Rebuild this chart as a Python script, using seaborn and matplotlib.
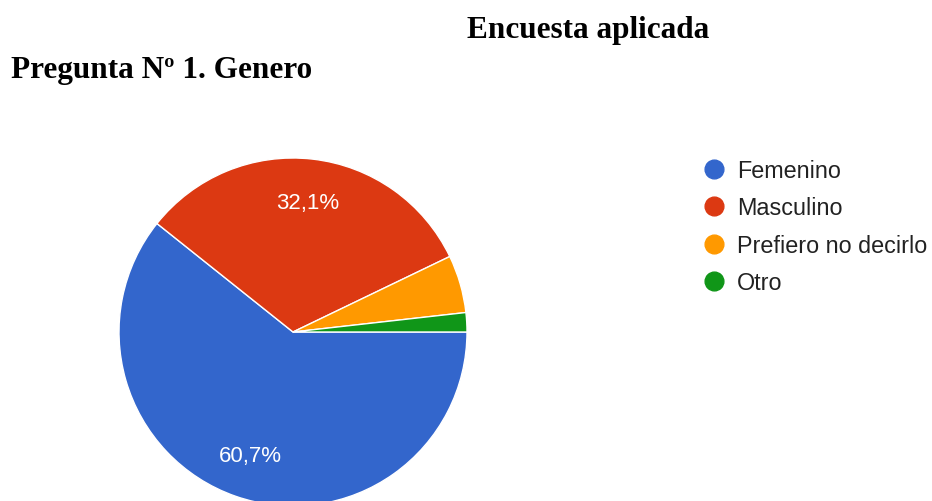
import matplotlib
matplotlib.use("Agg")
import matplotlib.pyplot as plt
from matplotlib.lines import Line2D
import seaborn as sns

# datos de la encuesta (56 respuestas)
categorias = ["Femenino", "Masculino", "Prefiero no decirlo", "Otro"]
respuestas = [34, 18, 3, 1]
colores = ["#3366cc", "#dc3912", "#ff9900", "#109618"]

titulo = "Encuesta aplicada"
subtitulo = "Pregunta Nº 1. Genero"


def etiqueta(pct):
    # Google Forms oculta las etiquetas de porciones pequeñas
    if pct < 10:
        return ""
    return f"{pct:.1f}%".replace(".", ",")


def main():
    sns.set_theme(style="white")
    plt.rcParams["font.family"] = ["Liberation Sans", "DejaVu Sans"]
    palette = sns.color_palette(colores)

    W, H = 932, 502
    fig = plt.figure(figsize=(W / 100, H / 100), dpi=100)

    # pie centrado en (293, 333) px, radio 174 px
    cx, cy, r = 293, 333, 174
    ax = fig.add_axes([(cx - r) / W, (H - cy - r) / H, 2 * r / W, 2 * r / H])
    ax.pie(respuestas, colors=palette, startangle=0, counterclock=False,
           autopct=etiqueta, pctdistance=0.75,
           wedgeprops=dict(edgecolor="white", linewidth=1),
           textprops=dict(color="white", fontsize=16))
    ax.set_xlim(-1, 1)
    ax.set_ylim(-1, 1)
    ax.set_aspect("equal")
    ax.axis("off")

    # leyenda con círculos
    handles = [Line2D([], [], marker="o", linestyle="none", markersize=13.5,
                      markerfacecolor=c, markeredgecolor=c) for c in palette]
    fig.legend(handles, categorias, loc="upper left",
               bbox_to_anchor=(705 / W, 1 - 160 / H), frameon=False,
               fontsize=16.8, labelcolor="#222222", handletextpad=0.6,
               labelspacing=0.62, handlelength=0.78, borderaxespad=0,
               borderpad=0)

    fig.text(588 / W, 1 - 38 / H, titulo, ha="center", va="baseline",
             fontsize=22.5, fontweight="bold", family="Liberation Serif",
             color="black")
    fig.text(11 / W, 1 - 78 / H, subtitulo, ha="left", va="baseline",
             fontsize=22.5, fontweight="bold", family="Liberation Serif",
             color="black")

    fig.savefig("out.png", dpi=100, facecolor="white")
    plt.close(fig)


if __name__ == "__main__":
    main()
